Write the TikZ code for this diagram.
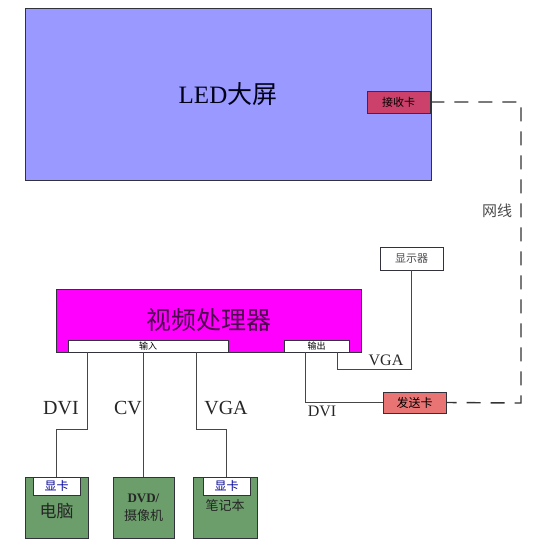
\documentclass[tikz,border=0pt]{standalone}
\usepackage{fontspec}
\setmainfont{Liberation Serif}
\newfontfamily\cjk{Noto Sans CJK SC}
\definecolor{ledfill}{RGB}{153,153,255}
\definecolor{rcvfill}{RGB}{204,64,108}
\definecolor{sndfill}{RGB}{232,116,116}
\definecolor{vpfill}{RGB}{255,0,255}
\definecolor{grn}{RGB}{107,158,107}
\definecolor{edge}{RGB}{50,50,60}
\definecolor{wire}{RGB}{70,70,70}
\begin{document}
\begin{tikzpicture}[x=1pt,y=-1pt,
  box/.style={draw=edge,line width=0.9pt,inner sep=0pt,align=center},
  wirel/.style={draw=wire,line width=0.9pt},
  netl/.style={draw=black!80,line width=1.4pt,dash pattern=on 14pt off 10pt},
  lbl/.style={inner sep=0pt,text=black!85}]
\useasboundingbox[fill=white] (0,0) rectangle (557,544);
% LED screen
\node[box,fill=ledfill,minimum width=406pt,minimum height=172pt,text=black!75!blue!40!black] (led) at (228,94)
  {\fontsize{25}{25}\selectfont LED{\cjk 大屏}};
\node[box,fill=rcvfill,minimum width=63pt,minimum height=22pt] (rcv) at (398.5,102)
  {\cjk\fontsize{11}{11}\selectfont 接收卡};
% monitor
\node[box,fill=white,minimum width=63pt,minimum height=23pt,text=black!70] (mon) at (411.5,258.5)
  {\cjk\fontsize{11}{11}\selectfont 显示器};
% video processor
\node[box,fill=vpfill,minimum width=305pt,minimum height=63pt,text=violet!60!black] (vp) at (208.5,320.5)
  {\raisebox{4pt}{\cjk\fontsize{25}{25}\selectfont 视频处理器}};
\node[box,fill=white,minimum width=160pt,minimum height=12pt] (in) at (148,346)
  {\cjk\fontsize{9}{9}\selectfont 输入};
\node[box,fill=white,minimum width=65pt,minimum height=12pt] (out) at (316.5,346)
  {\cjk\fontsize{9}{9}\selectfont 输出};
% sending card
\node[box,fill=sndfill,minimum width=63pt,minimum height=21pt] (snd) at (414.5,402.5)
  {\cjk\fontsize{12}{12}\selectfont 发送卡};
% sources
\node[box,fill=grn,minimum width=63pt,minimum height=61pt] (pc) at (56.5,507.5) {};
\node[box,fill=white,minimum width=47pt,minimum height=18pt,text=blue!60!black] (gk1) at (56.5,486)
  {\cjk\fontsize{12}{12}\selectfont 显卡};
\node[lbl] (pct) at (56.5,511) {\cjk\fontsize{17}{17}\selectfont 电脑};
\node[box,fill=grn,minimum width=61pt,minimum height=61pt,text=black!85,
  font=\fontsize{13}{18}\selectfont] (dvd) at (143.5,507.5)
  {\textbf{DVD/}\\{\cjk 摄像机}};
\node[box,fill=grn,minimum width=64pt,minimum height=61pt] (nb) at (225,507.5) {};
\node[box,fill=white,minimum width=47pt,minimum height=18pt,text=blue!60!black] (gk2) at (226.5,486)
  {\cjk\fontsize{12}{12}\selectfont 显卡};
\node[lbl] (nbt) at (225,506) {\cjk\fontsize{13}{13}\selectfont 笔记本};
% network cable
\coordinate (nc) at (521,403);
\draw[netl] (rcv.east) -| (nc) -- (snd.east);
\node[lbl,text=black!70] (netlbl) at (497,211) {\cjk\fontsize{15}{15}\selectfont 网线};
% output wires
\draw[wirel] ([xshift=-12pt]out.south east) -- ++(0,17) -| (mon.south);
\draw[wirel] ([xshift=22pt]out.south west) |- (snd.west);
\node[lbl] (vgao) at (386,360) {\fontsize{16}{16}\selectfont VGA};
\node[lbl] (dvio) at (322,411) {\fontsize{16}{16}\selectfont DVI};
% input wires
\draw[wirel] ([xshift=20pt]in.south west) -- ++(0,77) -| (gk1.north);
\draw[wirel] (in.south -| dvd.north) -- (dvd.north);
\draw[wirel] ([xshift=129pt]in.south west) -- ++(0,77) -| (gk2.north);
\node[lbl] (dvii) at (61,408) {\fontsize{20}{20}\selectfont DVI};
\node[lbl] (cvi) at (128,408) {\fontsize{20}{20}\selectfont CV};
\node[lbl] (vgai) at (226,408) {\fontsize{20}{20}\selectfont VGA};
\end{tikzpicture}
\end{document}
